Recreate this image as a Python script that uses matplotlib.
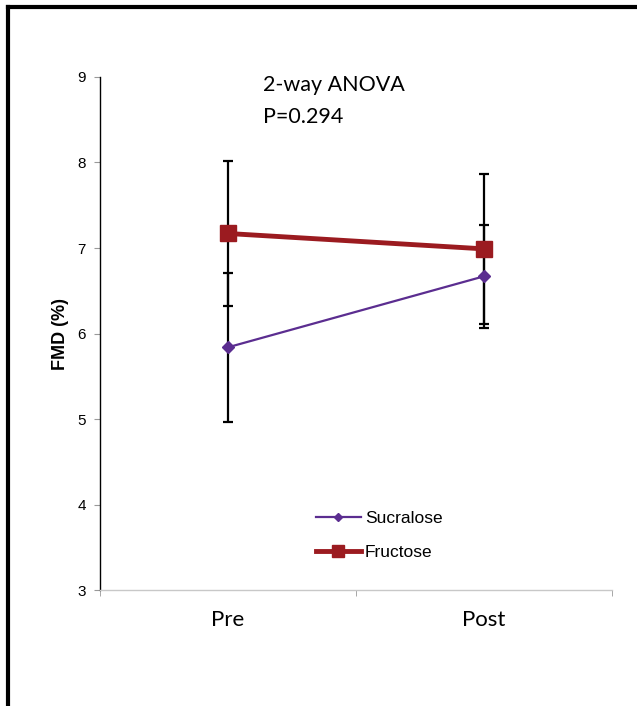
import matplotlib
matplotlib.use("Agg")
import matplotlib.pyplot as plt
from matplotlib.lines import Line2D

# data
groups = ["Pre", "Post"]
sucralose_mean = [5.84, 6.67]
sucralose_err = [0.87, 0.60]
fructose_mean = [7.17, 6.99]
fructose_err = [0.85, 0.88]
yticks = [3, 4, 5, 6, 7, 8, 9]

SUC_COLOR = "#5b2d90"
FRU_COLOR = "#9b1b20"

fig = plt.figure(figsize=(6.37, 7.06), dpi=100)
ax = fig.add_axes([0.157, 0.164, 0.804, 0.727])

xpos = [0.5, 1.5]

ax.errorbar(xpos, fructose_mean, yerr=fructose_err, fmt="none", ecolor="black",
            elinewidth=1.6, capsize=3.5, capthick=1.6, zorder=2)
ax.errorbar(xpos, sucralose_mean, yerr=sucralose_err, fmt="none", ecolor="black",
            elinewidth=1.6, capsize=3.5, capthick=1.6, zorder=2)
ax.plot(xpos, sucralose_mean, color=SUC_COLOR, lw=1.6, marker="D", markersize=6,
        label="Sucralose", zorder=3)
ax.plot(xpos, fructose_mean, color=FRU_COLOR, lw=3.5, marker="s", markersize=12,
        label="Fructose", zorder=4)

ax.set_xlim(0, 2)
ax.set_ylim(3, 9)
ax.set_yticks(yticks)
ax.set_yticklabels([str(t) for t in yticks], fontsize=11, family="Liberation Sans")
ax.tick_params(axis="y", direction="out", length=4, color="#999999", pad=6)

ax.set_xticks(xpos)
ax.set_xticklabels(groups, fontsize=16, family="Lato")
ax.tick_params(axis="x", which="major", length=0, pad=14)
ax.set_xticks([0, 1, 2], minor=True)
ax.tick_params(axis="x", which="minor", direction="out", length=4, color="#999999")

for side in ["top", "right"]:
    ax.spines[side].set_visible(False)
ax.spines["left"].set_color("black")
ax.spines["left"].set_linewidth(1.0)
ax.spines["bottom"].set_color("#c8c8c8")
ax.spines["bottom"].set_linewidth(1.0)

ax.set_ylabel("FMD (%)", fontsize=13, fontweight="bold", family="Liberation Sans", labelpad=6)

ax.text(0.637, 8.906, "2-way ANOVA", fontsize=15.5, family="Lato", ha="left", va="center")
ax.text(0.637, 8.53, "P=0.294", fontsize=15.5, family="Lato", ha="left", va="center")

leg = ax.legend(loc="upper left", bbox_to_anchor=(0.404, 0.172), frameon=False,
                prop={"family": "Liberation Sans", "size": 12.5}, borderpad=0,
                handlelength=2.6, handletextpad=0.25, labelspacing=1.1, markerscale=0.7)

# page frame: thick black line on the top and left edges
fig.add_artist(Line2D([0.012, 1.0], [0.990, 0.990], color="black", lw=3, transform=fig.transFigure))
fig.add_artist(Line2D([0.012, 0.012], [0.0, 0.990], color="black", lw=3, transform=fig.transFigure))

fig.savefig("out.png", dpi=100)
